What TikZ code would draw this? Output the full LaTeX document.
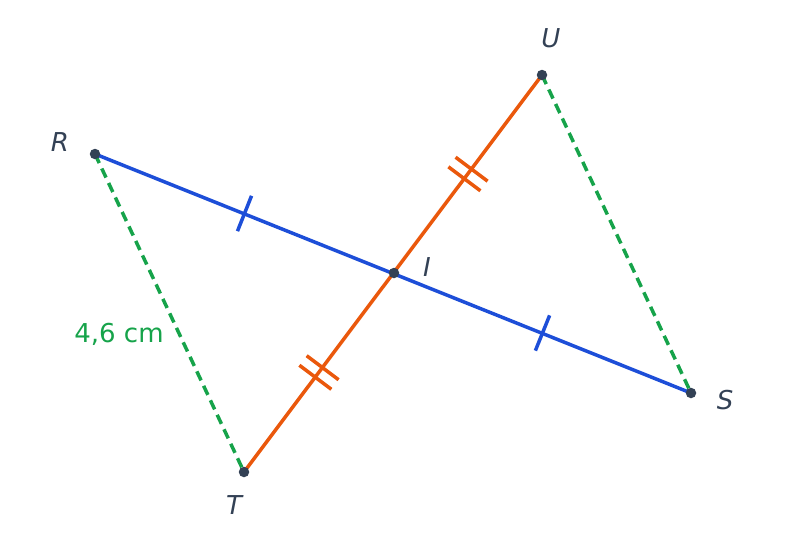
\documentclass[tikz,border=0pt]{standalone}
\usepackage{fontspec}
\setmainfont{DejaVu Sans}
\usetikzlibrary{calc}
\definecolor{cblue}{HTML}{1D4ED8}
\definecolor{corange}{HTML}{EA580C}
\definecolor{cgreen}{HTML}{16A34A}
\definecolor{cdark}{HTML}{334155}
\tikzset{
  seg/.style={line width=3.5pt, line cap=round},
  dashseg/.style={line width=3.5pt, cgreen, dash pattern=on 10pt off 6pt},
  tickmark/.style={line width=3.5pt},
  ptdot/.style={circle, fill=cdark, inner sep=0pt, minimum size=10.5pt},
  ptlabel/.style={text=cdark, font=\fontsize{26}{30}\selectfont\itshape, inner sep=0pt},
}
\begin{document}
\begin{tikzpicture}[x=1pt,y=-1pt]
\useasboundingbox (0,0) rectangle (785,547);
\coordinate (R) at (95,154);
\coordinate (U) at (542,75);
\coordinate (I) at (394,273);
\coordinate (S) at (691,393);
\coordinate (T) at (244,472);
% dashed sides
\draw[dashseg] (R) -- (T);
\draw[dashseg] (U) -- (S);
% segments
\draw[seg, cblue] (R) -- (S);
\draw[seg, corange] (T) -- (U);
% single ticks on blue
\coordinate (m1) at ($(R)!0.5!(I)$);
\coordinate (m2) at ($(I)!0.5!(S)$);
\draw[tickmark, cblue] ($(m1)!19pt!90:(I)$) -- ($(m1)!19pt!-90:(I)$);
\draw[tickmark, cblue] ($(m2)!19pt!90:(S)$) -- ($(m2)!19pt!-90:(S)$);
% double ticks on orange
\foreach \a/\b/\n in {T/I/a, I/U/b}{
  \coordinate (mm\n) at ($(\a)!0.5!(\b)$);
  \coordinate (p\n) at ($(mm\n)!6pt!(\b)$);
  \coordinate (q\n) at ($(mm\n)!-6pt!(\b)$);
  \draw[tickmark, corange] ($(p\n)!20pt!90:(\b)$) -- ($(p\n)!20pt!-90:(\b)$);
  \draw[tickmark, corange] ($(q\n)!20pt!90:(\b)$) -- ($(q\n)!20pt!-90:(\b)$);
}
% points
\foreach \p in {R,U,I,S,T} \node[ptdot] (d\p) at (\p) {};
% labels
\node[ptlabel] (lR) at (60,142) {R};
\node[ptlabel] (lU) at (551,38) {U};
\node[ptlabel] (lI) at (427,267) {I};
\node[ptlabel] (lS) at (725,400) {S};
\node[ptlabel] (lT) at (234,505) {T};
\node[text=cgreen, font=\fontsize{26}{30}\selectfont, inner sep=0pt] (len) at (119,334) {4,6 cm};
\end{tikzpicture}
\end{document}
